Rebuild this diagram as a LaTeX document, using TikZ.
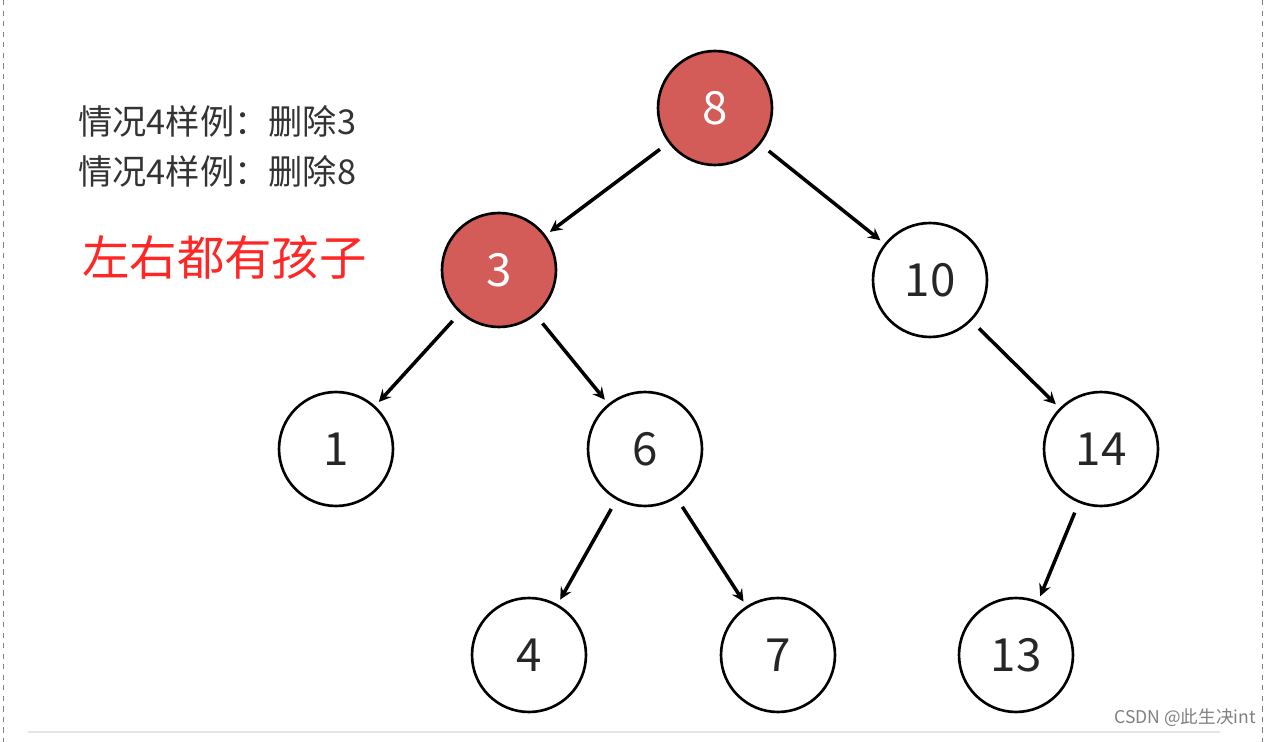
\documentclass[tikz,border=0pt]{standalone}
\usepackage{fontspec}
\setmainfont{Noto Sans CJK SC}
\usetikzlibrary{arrows}
\tikzstyle{treenode} = [draw,line width=1.5pt,circle,minimum size=2.28cm,inner sep=0pt,font=\fontsize{26}{30}\selectfont,text=black!85]
\tikzstyle{delnode} = [treenode,fill=delred,text=white]
\tikzstyle{treeedge} = [line width=2pt,->,>=stealth,shorten <=6pt,shorten >=3pt]
\definecolor{delred}{HTML}{D35B58}
\begin{document}
\begin{tikzpicture}[x=0.02cm,y=-0.02cm]
    \useasboundingbox (0,0) rectangle (1267,742);
    \draw[dashed,gray] (3,0) -- (3,742);
    \draw[dashed,gray] (1262,0) -- (1262,742);
    \draw[gray!20,line width=1.5pt] (28,732) -- (1220,732);
    
    % nodes
    \node[delnode]  (n8)  at (715,108) {8};
    \node[delnode]  (n3)  at (499,270) {3};
    \node[treenode] (n10) at (930,280) {10};
    \node[treenode] (n1)  at (336,449) {1};
    \node[treenode] (n6)  at (645,449) {6};
    \node[treenode] (n14) at (1101,449) {14};
    \node[treenode] (n4)  at (529,655) {4};
    \node[treenode] (n7)  at (778,655) {7};
    \node[treenode] (n13) at (1016,655) {13};
    
    % edges
    \draw[treeedge] (n8) -- (n3);
    \draw[treeedge] (n8) -- (n10);
    \draw[treeedge] (n3) -- (n1);
    \draw[treeedge] (n3) -- (n6);
    \draw[treeedge] (n10) -- (n14);
    \draw[treeedge] (n6) -- (n4);
    \draw[treeedge] (n6) -- (n7);
    \draw[treeedge] (n14) -- (n13);
    
    % texts
    \node[anchor=west,font=\fontsize{19.5}{22}\selectfont,text=black!80] (case1) at (72,121) {情况4样例：删除3};
    \node[anchor=west,font=\fontsize{19.5}{22}\selectfont,text=black!80] (case2) at (72,171) {情况4样例：删除8};
    \node[anchor=west,font=\fontsize{27}{32}\selectfont,text=red!85!white] (title) at (76,257) {左右都有孩子};
    \node[anchor=east,font=\fontsize{10}{12}\selectfont,text=gray] (mark) at (1262,718) {CSDN @此生决int};
\end{tikzpicture}
\end{document}
